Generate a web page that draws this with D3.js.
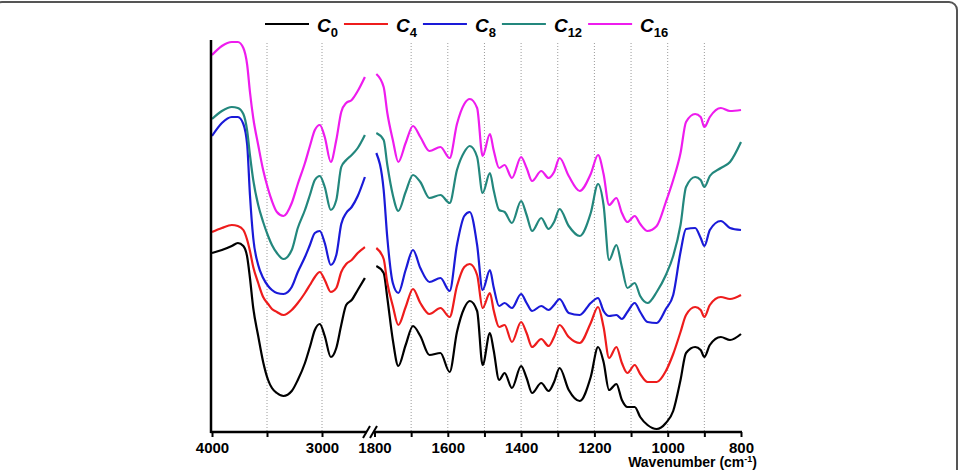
<!DOCTYPE html>
<html>
<head>
<meta charset="utf-8">
<script src="https://cdn.jsdelivr.net/npm/d3@7"></script>
<style>
  body { margin: 0; background: #fff; }
  svg { display: block; font-family: "Liberation Sans", Arial, sans-serif; }
</style>
</head>
<body>
<script>
// wavenumbers (cm-1), high range left of the axis break
var wnHigh = [4000, 3910, 3820, 3765, 3715, 3680, 3655, 3625, 3580, 3535, 3490, 3455, 3410, 3350,
              3275, 3220, 3155, 3110, 3065, 3020, 2975, 2920, 2870, 2825, 2780, 2730, 2675, 2610];
// fingerprint range right of the break
var wnLow = [1795, 1775, 1765, 1750, 1735, 1715, 1695, 1675, 1650, 1620, 1595, 1575, 1555, 1540, 1520,
             1505, 1485, 1475, 1460, 1445, 1425, 1400, 1385, 1370, 1345, 1325, 1310, 1295, 1270, 1240,
             1210, 1190, 1175, 1160, 1140, 1125, 1110, 1090, 1075, 1055, 1030, 1005, 985, 965, 950,
             925, 910, 900, 885, 855, 830, 800];

// transmittance, arbitrary units (spectra are stacked)
var c0High = [179, 182, 186, 189, 186, 175, 154, 124, 96, 70, 52, 44, 39, 36,
              41, 52, 69, 85, 102, 108, 96, 75, 84, 107, 127, 132, 142, 154];
var c0Low = [166, 159, 134, 92, 66, 87, 106, 96, 77, 79, 60, 100, 124, 131, 121,
             67, 99, 82, 52, 59, 44, 66, 54, 39, 49, 41, 50, 64, 42, 31,
             55, 85, 70, 42, 48, 32, 25, 25, 15, 7, 3, 9, 21, 52, 79,
             85, 82, 75, 87, 95, 92, 98];

var c4High = [200, 204, 207, 206, 202, 192, 181, 165, 149, 135, 128, 123, 120, 117,
              122, 129, 139, 147, 155, 160, 152, 140, 144, 160, 168, 172, 179, 185];
var c4Low = [184, 173, 149, 126, 107, 125, 143, 129, 118, 124, 115, 146, 165, 168, 157,
             124, 139, 122, 105, 107, 90, 110, 99, 85, 93, 86, 95, 107, 95, 89,
             109, 125, 105, 74, 85, 69, 59, 67, 58, 50, 50, 61, 78, 100, 117,
             125, 122, 115, 127, 135, 133, 137];

var c8High = [296, 309, 315, 315, 308, 287, 237, 194, 167, 154, 146, 142, 139, 138,
              145, 160, 175, 187, 199, 201, 189, 167, 177, 208, 219, 225, 236, 255];
var c8Low = [279, 242, 194, 149, 139, 162, 182, 164, 150, 154, 141, 187, 216, 220, 187,
             142, 162, 145, 126, 129, 124, 138, 129, 121, 126, 122, 127, 133, 119, 117,
             129, 134, 121, 116, 117, 113, 120, 129, 120, 110, 109, 123, 137, 180, 203,
             204, 194, 186, 202, 211, 204, 202];

var c12High = [313, 321, 325, 324, 318, 301, 277, 252, 227, 210, 196, 187, 179, 173,
               182, 204, 222, 237, 252, 256, 245, 222, 232, 265, 272, 277, 284, 297];
var c12Low = [299, 292, 267, 237, 221, 240, 257, 250, 234, 237, 229, 262, 280, 286, 275,
              239, 259, 242, 222, 220, 209, 231, 217, 201, 214, 203, 210, 223, 206, 196,
              219, 248, 227, 172, 187, 165, 144, 149, 136, 129, 140, 157, 176, 207, 245,
              255, 252, 245, 256, 264, 270, 290];

var c16High = [377, 386, 390, 390, 384, 367, 340, 314, 287, 262, 243, 231, 220, 216,
               229, 248, 269, 286, 302, 307, 295, 270, 292, 320, 329, 332, 341, 355];
var c16Low = [358, 345, 319, 292, 270, 289, 306, 295, 281, 285, 274, 308, 328, 333, 324,
              276, 298, 282, 264, 267, 254, 275, 264, 251, 261, 254, 260, 274, 256, 241,
              258, 277, 258, 227, 234, 219, 210, 216, 208, 201, 206, 230, 252, 279, 310,
              318, 315, 305, 315, 324, 321, 322];

var seriesNames = ["0", "4", "8", "12", "16"];
var seriesColors = ["#000000", "#ee1c1c", "#1a1ad8", "#23877d", "#ee1cee"];
var seriesHigh = [c0High, c4High, c8High, c12High, c16High];
var seriesLow = [c0Low, c4Low, c8Low, c12Low, c16Low];

var ticksHigh = [4000, 3500, 3000];
var ticksLow = [1800, 1700, 1600, 1500, 1400, 1300, 1200, 1100, 1000, 900, 800];
var gridHigh = [3500, 3000];
var gridLow = [1700, 1600, 1500, 1400, 1300, 1200, 1100, 1000, 900];

var width = 959, height = 470;
var svg = d3.select("body").append("svg").attr("width", width).attr("height", height);

// frame round the figure
svg.append("rect")
    .attr("x", -6).attr("y", 2).attr("width", 963).attr("height", 490).attr("rx", 8)
    .attr("fill", "none").attr("stroke", "#555").attr("stroke-width", 2);

var plotTop = 40, plotBottom = 432;
var xHigh = d3.scaleLinear().domain([4000, 2600]).range([212, 366]);
var xLow = d3.scaleLinear().domain([1800, 800]).range([374.5, 741]);
var y = d3.scaleLinear().domain([0, 392]).range([plotBottom, plotTop]);

// dotted guide lines
var grid = svg.append("g").attr("stroke", "#9a9a9a").attr("stroke-width", 1).attr("stroke-dasharray", "1,2");
gridHigh.forEach(function (w) {
    grid.append("line").attr("x1", xHigh(w)).attr("x2", xHigh(w)).attr("y1", plotTop + 3).attr("y2", plotBottom);
});
gridLow.forEach(function (w) {
    grid.append("line").attr("x1", xLow(w)).attr("x2", xLow(w)).attr("y1", plotTop + 3).attr("y2", plotBottom);
});

// spectra
var lineHigh = d3.line().x(function (d, i) { return xHigh(wnHigh[i]); }).y(function (d) { return y(d); })
    .curve(d3.curveMonotoneX);
var lineLow = d3.line().x(function (d, i) { return xLow(wnLow[i]); }).y(function (d) { return y(d); })
    .curve(d3.curveMonotoneX);

var curves = svg.append("g").attr("fill", "none").attr("stroke-width", 2.2).attr("stroke-linejoin", "round");
seriesNames.forEach(function (name, k) {
    curves.append("path").attr("d", lineHigh(seriesHigh[k])).attr("stroke", seriesColors[k]);
    curves.append("path").attr("d", lineLow(seriesLow[k])).attr("stroke", seriesColors[k]);
});

// axes
function fmt(d) { return d % 200 === 0 ? d : ""; }
var axHigh = svg.append("g").attr("transform", "translate(0," + plotBottom + ")")
    .call(d3.axisBottom(xHigh).tickValues(ticksHigh).tickSize(5).tickSizeOuter(0).tickPadding(5)
        .tickFormat(function (d) { return d % 1000 === 0 ? d : ""; }));
var axLow = svg.append("g").attr("transform", "translate(0," + plotBottom + ")")
    .call(d3.axisBottom(xLow).tickValues(ticksLow).tickSize(5).tickSizeOuter(0).tickPadding(5).tickFormat(fmt));
[axHigh, axLow].forEach(function (ax) {
    ax.select(".domain").attr("stroke", "#000").attr("stroke-width", 2.5);
    ax.selectAll(".tick line").attr("stroke", "#000").attr("stroke-width", 2);
    ax.selectAll("text").attr("fill", "#000").attr("font-size", 15).attr("font-weight", "bold");
});
axHigh.select(".domain").attr("d", "M210.5,0H367");
axLow.select(".domain").attr("d", "M373.5,0H742");

svg.append("line").attr("x1", 211).attr("x2", 211).attr("y1", plotTop).attr("y2", plotBottom + 1)
    .attr("stroke", "#000").attr("stroke-width", 2.5);

// axis break marks
var brk = svg.append("g").attr("stroke", "#000").attr("stroke-width", 2);
[365, 372].forEach(function (bx) {
    brk.append("line").attr("x1", bx - 2).attr("y1", plotBottom + 6).attr("x2", bx + 5).attr("y2", plotBottom - 6);
});

// axis title
var title = svg.append("text").attr("x", 757).attr("y", 467).attr("text-anchor", "end")
    .attr("font-size", 14).attr("font-weight", "bold").text("Wavenumber (cm");
title.append("tspan").attr("font-size", 9).attr("dy", -5).text("-1");
title.append("tspan").attr("dy", 5).text(")");

// legend
var lx = 265;
seriesNames.forEach(function (name, k) {
    var g = svg.append("g");
    g.append("line").attr("x1", lx).attr("x2", lx + 44).attr("y1", 24).attr("y2", 24)
        .attr("stroke", seriesColors[k]).attr("stroke-width", 2);
    var t = g.append("text").attr("x", lx + 52).attr("y", 32).attr("font-weight", "bold");
    t.append("tspan").attr("font-size", 19).attr("font-style", "italic").text("C");
    t.append("tspan").attr("font-size", 13).attr("dy", 5).text(name);
    lx = lx + 52 + t.node().getComputedTextLength() + 6;
});
</script>
</body>
</html>
